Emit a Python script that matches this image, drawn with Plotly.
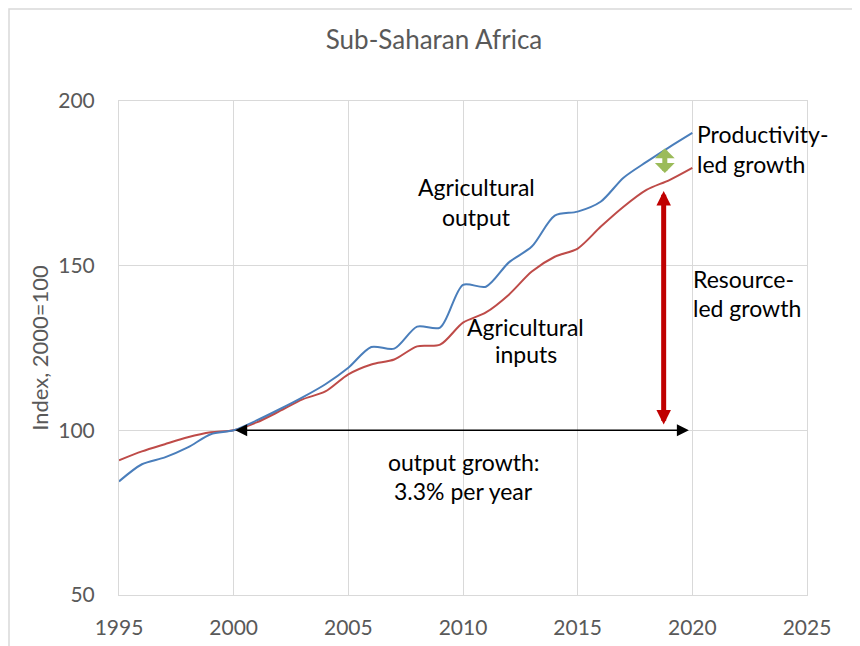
import plotly.graph_objects as go

years = list(range(1995, 2021))
output_index = [84.5, 89.7, 91.8, 94.8, 98.8, 100.0, 103.0, 106.4, 110.0, 114.0,
                119.0, 125.3, 124.8, 131.5, 131.2, 144.2, 143.6, 151.0, 155.8, 165.2,
                166.4, 169.4, 176.7, 181.5, 186.0, 190.3]
input_index = [90.9, 93.6, 95.8, 97.9, 99.4, 100.0, 102.4, 105.8, 109.4, 111.8,
               117.0, 120.0, 121.5, 125.5, 126.0, 132.7, 135.8, 141.2, 148.2, 152.7,
               155.2, 161.8, 167.9, 173.0, 176.0, 179.7]
x_ticks = [1995, 2000, 2005, 2010, 2015, 2020, 2025]
y_ticks = [50, 100, 150, 200]

FONT = "Lato"
GREY = "#595959"
GRID = "#d9d9d9"

fig = go.Figure()
fig.add_trace(go.Scatter(x=years, y=input_index, mode="lines",
                         line=dict(color="#BE4B48", width=2, shape="spline", smoothing=0.8),
                         name="Agricultural inputs"))
fig.add_trace(go.Scatter(x=years, y=output_index, mode="lines",
                         line=dict(color="#4A7EBB", width=2, shape="spline", smoothing=0.8),
                         name="Agricultural output"))

ann = []
def txt(x, y, t, xanchor="center"):
    ann.append(dict(x=x, y=y, xref="x", yref="y", text=t, showarrow=False,
                    xanchor=xanchor, yanchor="middle",
                    font=dict(family=FONT, size=23, color="#000000")))

txt(2010.6, 173.8, "Agricultural")
txt(2010.6, 164.7, "output")
txt(2012.73, 131.3, "Agricultural")
txt(2012.73, 123.1, "inputs")
txt(2020.1, 189.9, "Productivity-", "left")
txt(2020.1, 180.8, "led growth", "left")
txt(2019.95, 145.9, "Resource-", "left")
txt(2019.95, 137.0, "led growth", "left")
txt(2010.03, 90.3, "output growth:")
txt(2010.03, 81.5, "3.3% per year")

def arrow(x0, y0, x1, y1, color, width, size, head=2):
    ann.append(dict(x=x1, y=y1, ax=x0, ay=y0, xref="x", yref="y", axref="x", ayref="y",
                    text="", showarrow=True, arrowhead=head, startarrowhead=head,
                    arrowside="end+start", arrowcolor=color, arrowwidth=width,
                    arrowsize=size, startarrowsize=size, standoff=0, startstandoff=0))

arrow(2000.0, 100.0, 2019.85, 100.0, "#000000", 1.5, 1.6)
arrow(2018.75, 101.3, 2018.75, 172.7, "#C00000", 5, 0.58)
arrow(2018.8, 177.7, 2018.8, 185.6, "#9BBB59", 5, 0.66, head=1)

fig.update_layout(
    width=852, height=638,
    margin=dict(l=111, r=53, t=93, b=51, autoexpand=False),
    paper_bgcolor="white", plot_bgcolor="white",
    showlegend=False,
    title=dict(text="Sub-Saharan Africa", x=0.5, xanchor="center", y=1 - 32 / 638,
               yanchor="middle", font=dict(family=FONT, size=26, color=GREY)),
    annotations=ann,
    shapes=[dict(type="rect", xref="paper", yref="paper",
                 x0=-110 / 688, x1=1.2, y0=-0.2, y1=1 + 92 / 494,
                 line=dict(color=GRID, width=1.5), layer="below")],
    xaxis=dict(range=[1995, 2025], tickvals=x_ticks, ticktext=[str(v) for v in x_ticks],
               showgrid=True, gridcolor=GRID, gridwidth=1, zeroline=False,
               showline=True, linecolor=GRID, mirror=True,
               ticks="outside", ticklen=14, tickcolor="rgba(0,0,0,0)",
               automargin=False,
               tickfont=dict(family=FONT, size=21, color=GREY)),
    yaxis=dict(range=[50, 200], tickvals=y_ticks, ticktext=[str(v) for v in y_ticks],
               showgrid=True, gridcolor=GRID, gridwidth=1, zeroline=False,
               showline=True, linecolor=GRID, mirror=True,
               ticks="outside", ticklen=19, tickcolor="rgba(0,0,0,0)",
               automargin=False,
               title=dict(text="Index, 2000=100", standoff=3,
                          font=dict(family=FONT, size=22, color=GREY)),
               tickfont=dict(family=FONT, size=21, color=GREY)),
)

fig.write_html("out.html")
